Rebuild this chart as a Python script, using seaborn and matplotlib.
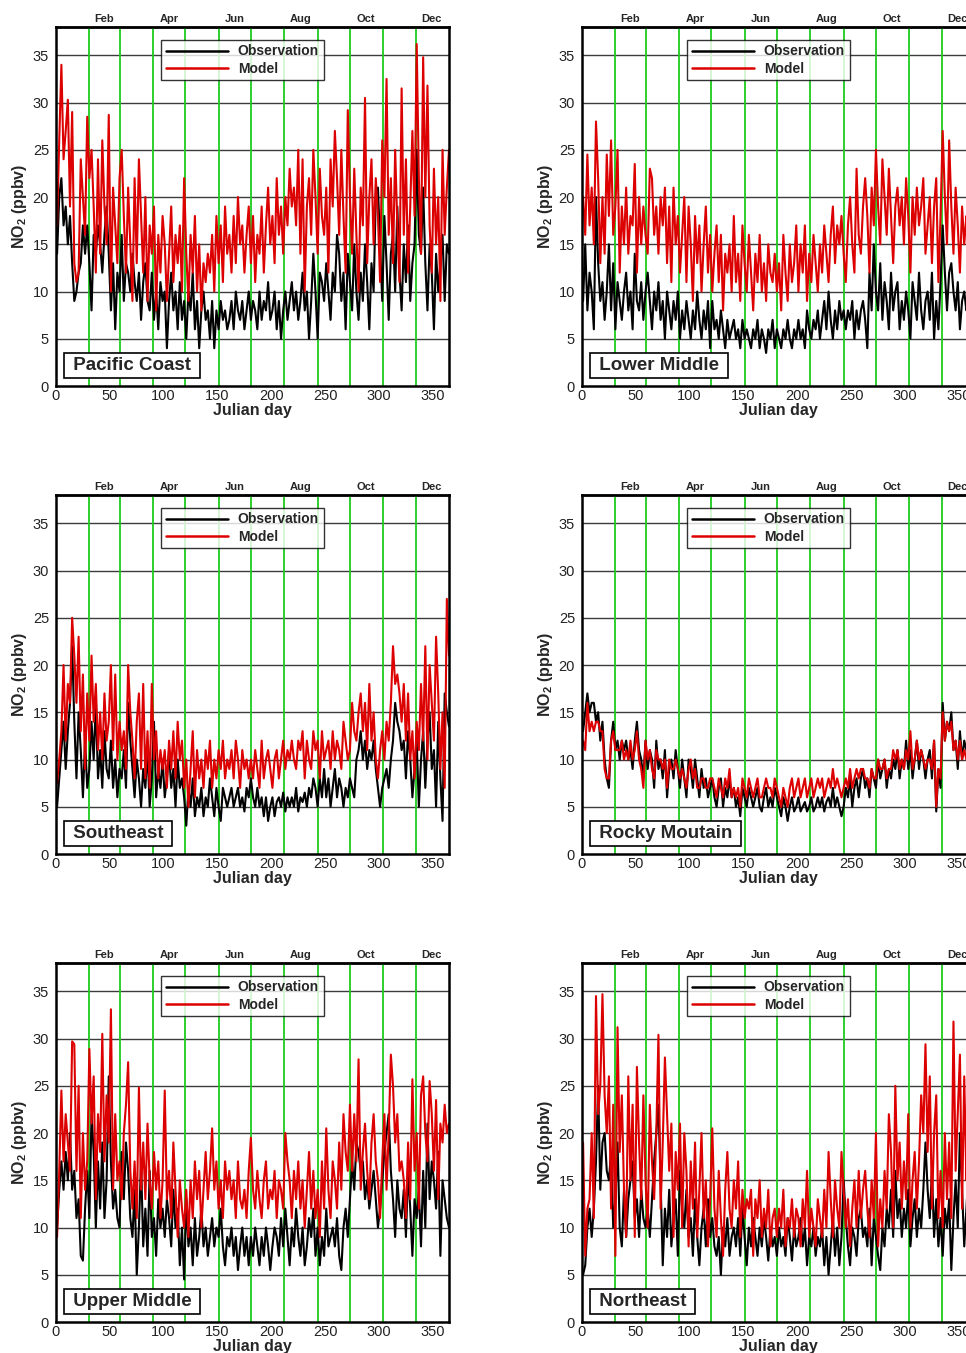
import numpy as np
import pandas as pd
import matplotlib
matplotlib.use("Agg")
import matplotlib.pyplot as plt
from matplotlib.lines import Line2D
import seaborn as sns

# ---- daily NO2 (ppbv), sampled every second Julian day (1, 3, ..., 365) ----
regions = ["Pacific Coast", "Lower Middle", "Southeast",
           "Rocky Moutain", "Upper Middle", "Northeast"]

pacific_obs = [
    14, 20, 22, 17, 19, 15, 18, 13, 9, 10,
    12, 13, 17, 14, 17, 13, 8, 16, 14, 17,
    15, 12, 16, 19, 14, 8, 13, 6, 12, 10,
    16, 9, 13, 12, 10, 14, 11, 9, 12, 7,
    11, 13, 9, 8, 12, 7, 10, 6, 11, 9,
    10, 4, 9, 12, 8, 10, 6, 11, 7, 9,
    5, 10, 8, 12, 6, 9, 4, 8, 10, 7,
    8, 5, 9, 4, 8, 6, 9, 7, 8, 6,
    7, 9, 6, 10, 8, 7, 9, 6, 8, 10,
    7, 9, 8, 6, 10, 7, 9, 8, 11, 7,
    8, 10, 6, 9, 5, 8, 10, 7, 9, 11,
    8, 10, 7, 9, 12, 8, 10, 5, 9, 14,
    10, 5, 12, 11, 9, 13, 10, 7, 12, 10,
    16, 14, 9, 12, 6, 14, 11, 8, 15, 10,
    7, 12, 9, 15, 11, 6, 13, 10, 20, 21,
    15, 9, 18, 13, 7, 14, 16, 10, 19, 12,
    8, 15, 11, 17, 9, 13, 15, 25, 16, 14,
    21, 13, 8, 15, 12, 6, 14, 10, 13, 16,
    9, 15, 14]
pacific_mod = [
    17, 26, 34, 24, 27, 30.3, 19, 29, 13, 11,
    12, 24, 20, 16, 28.5, 22, 25, 19, 12, 24,
    14, 26, 19, 15, 28.7, 10, 21, 17, 13, 22,
    25, 18, 12, 21, 15, 9, 22, 13, 24, 18,
    12, 20, 9, 17, 14, 19, 8, 16, 12, 18,
    15, 9, 14, 19, 11, 16, 13, 17, 10, 22,
    14, 9, 16, 12, 18, 10, 15, 8, 13, 11,
    14, 12, 16, 10, 18, 13, 17, 11, 19, 14,
    16, 12, 18, 13, 20, 15, 17, 12, 16, 19,
    13, 18, 11, 16, 14, 19, 12, 17, 21, 15,
    18, 13, 22, 16, 19, 14, 20, 17, 23, 19,
    21, 17, 25, 14, 24, 10, 19, 22, 16, 25,
    20, 14, 23, 18, 16, 21, 12, 24, 19, 27,
    22, 16, 25, 18, 12, 29.2, 20, 14, 23, 16,
    10, 21, 17, 30.5, 13, 20, 24, 15, 22, 18,
    11, 26, 20, 32.5, 16, 22, 13, 25, 17, 11,
    31.5, 16, 24, 12, 19, 27, 18, 36.2, 22, 14,
    34.8, 20, 31.8, 17, 12, 23, 15, 20, 9, 25,
    16, 21, 25]

lower_obs = [
    9, 15, 8, 12, 10, 6, 20, 13, 9, 11,
    7, 10, 15, 8, 13, 6, 11, 9, 7, 10,
    12, 8, 10, 6, 14, 9, 8, 11, 7, 10,
    12, 9, 6, 10, 8, 11, 7, 9, 5, 10,
    8, 6, 9, 7, 10, 5, 8, 6, 9, 7,
    5, 8, 6, 10, 7, 5, 8, 6, 9, 4,
    9, 6, 7, 5, 8, 6, 4, 7, 5, 6,
    7, 5, 6, 4, 7, 5, 6, 5, 4, 6,
    5, 7, 4, 6, 5, 3.5, 6, 5, 7, 4,
    6, 5, 4, 6, 5, 7, 5, 4, 6, 5,
    7, 5, 6, 4, 8, 6, 5, 7, 6, 8,
    5, 7, 9, 6, 10, 7, 5, 8, 6, 9,
    7, 8, 6, 8, 7, 9, 5, 8, 6, 8,
    9, 7, 4, 12, 8, 15, 10, 8, 13, 7,
    11, 9, 6, 12, 8, 10, 11, 6, 9, 7,
    10, 8, 5, 11, 9, 7, 12, 8, 6, 9,
    10, 7, 12, 5, 9, 6, 11, 17, 12, 8,
    12, 13, 10, 8, 11, 6, 9, 10, 8, 9,
    7, 10, 9]
lower_mod = [
    20, 16, 24.5, 17, 21, 15, 28, 22, 13, 20,
    14, 24.5, 18, 26, 16, 19, 25, 12, 19, 15,
    21, 14, 18, 17, 23.5, 12, 20, 15, 19, 16,
    14, 23, 22, 16, 19, 14, 20, 17, 21, 13,
    19, 11, 21, 15, 18, 12, 16, 20, 11, 19,
    15, 9, 18, 13, 17, 10, 15, 19, 12, 16,
    10, 14, 17, 11, 16, 8, 14, 12, 15, 10,
    18, 11, 14, 9, 17, 13, 10, 16, 12, 8,
    14, 11, 16, 10, 13, 9, 15, 12, 11, 14,
    10, 13, 8, 16, 12, 9, 15, 11, 13, 17,
    10, 15, 12, 17, 9, 14, 11, 16, 13, 10,
    15, 12, 17, 14, 11, 16, 19, 13, 17, 15,
    18, 14, 11, 17, 20, 15, 12, 23, 16, 14,
    19, 22, 18, 12, 21, 17, 25, 19, 15, 24,
    20, 16, 23, 18, 13, 19, 21, 17, 20, 15,
    22, 18, 12, 20, 16, 21, 17, 19, 22, 14,
    17, 20, 13, 19, 22, 11, 18, 27, 20, 15,
    26, 19, 14, 21, 17, 12, 19, 15, 18, 16,
    13, 17, 15]

southeast_obs = [
    5, 8, 11, 14, 9, 13, 16, 22, 14, 8,
    15, 11, 6, 12, 7, 9, 14, 10, 16, 8,
    11, 7, 13, 9, 8, 12, 7, 10, 6, 9,
    8, 11, 7, 16, 12, 9, 6, 10, 8, 5,
    9, 7, 11, 5, 8, 14, 6, 9, 7, 10,
    6, 8, 11, 7, 9, 5, 10, 7, 8, 6,
    3, 7, 5, 8, 4, 6, 5, 7, 4, 6,
    5, 8, 6, 4, 7, 5, 3.5, 7, 6, 5,
    6, 7, 5, 6, 7, 5, 6, 4.5, 7, 6,
    8, 6, 5, 7, 5, 6, 4, 6, 3.5, 5,
    6, 4, 5.5, 6, 5, 6.5, 4.5, 6, 5, 6,
    5, 7, 4.5, 6, 5.5, 6.5, 5, 7, 6, 8,
    7, 5, 8, 6, 9, 6, 8, 5, 7, 9,
    6, 8, 7, 5, 7, 6, 8, 7, 6, 10,
    11, 13, 10, 12, 9, 11, 10, 12, 9, 7,
    5, 7, 8, 9, 7, 10, 12, 16, 14, 13,
    11, 12, 8, 13, 10, 6, 9, 12, 5, 10,
    13, 7, 12, 15, 9, 11, 5, 14, 8, 3.5,
    17, 15, 13.5]
southeast_mod = [
    7.5, 10, 13, 20, 12, 18, 16, 25, 21, 16,
    23, 13, 19, 9, 17, 12, 21, 14, 18, 11,
    15, 10, 17, 12, 14, 20, 11, 19, 10, 14,
    11, 13, 9, 20, 15, 12, 8, 14, 17, 9,
    18, 8, 13, 7, 18, 10, 13, 8, 11, 9,
    11, 7, 12, 9, 13, 8, 14, 10, 12, 7,
    10, 5, 9, 13, 6, 11, 8, 10, 7, 11,
    9, 12, 7, 10, 8, 11, 9, 12, 8, 10,
    9, 11, 8, 12, 10, 7, 11, 9, 10, 8,
    10, 8, 11, 9, 7, 12, 8, 10, 11, 9,
    7, 10, 11, 8, 10, 12, 9, 11, 10, 12,
    10, 9, 12, 11, 13, 8, 12, 10, 9, 13,
    11, 12, 8, 13, 10, 11, 12, 9, 13, 10,
    12, 11, 9, 14, 12, 10, 11, 16, 13, 12,
    15, 17, 13, 16, 11, 18, 12, 15, 10, 8,
    11, 13, 10, 14, 12, 16, 22, 18, 19, 17,
    14, 18, 12, 17, 10, 13, 8, 14, 11, 18,
    12, 22, 10, 20, 16, 12, 23, 17, 9, 15,
    7, 27, 21]

rocky_obs = [
    13, 15, 17, 15, 16, 16, 14, 15, 12, 14,
    10, 8, 7, 12, 14, 11, 12, 10, 12, 11,
    12, 10, 11, 9, 12, 14, 11, 10, 8, 12,
    9, 11, 10, 7, 12, 9, 10, 8, 11, 6,
    9, 10, 8, 11, 9, 7, 10, 8, 6, 10,
    9, 7, 10, 8, 6, 9, 7, 8, 6, 7,
    8, 6, 5, 7, 8, 5, 7, 6, 8, 6,
    7, 5, 6, 4, 7, 6, 5, 7, 6, 5,
    6, 7, 5, 4.5, 6, 7, 5, 6, 5, 7,
    6, 5, 4, 6, 5, 3.5, 5, 6, 4.5, 5,
    6, 4.5, 5, 5.5, 4.5, 5, 6, 4.5, 5, 6,
    5, 6, 4.5, 5.5, 6, 5, 7, 5, 6, 5,
    4, 5, 7, 6, 8, 5, 7, 8, 6, 8,
    9, 7, 8, 6, 9, 8, 7, 10, 8, 9,
    10, 7, 9, 8, 10, 9, 11, 8, 10, 9,
    12, 9, 11, 8, 10, 12, 9, 11, 10, 8,
    10, 11, 8, 12, 4.5, 9, 7, 16, 12, 14,
    13, 15, 11, 12, 9, 13, 10, 12, 11, 10,
    9, 11, 10]
rocky_mod = [
    12, 11, 16, 13, 14, 13, 14, 14, 13, 13,
    9, 8, 8, 12, 13, 11, 11, 11, 12, 10,
    11, 10, 12, 10, 11, 13, 10, 9, 7, 12,
    10, 11, 9, 8, 11, 10, 10, 9, 10, 7,
    10, 9, 9, 10, 9, 8, 9, 8, 7, 9,
    10, 8, 9, 7, 7, 8, 8, 7, 7, 8,
    8, 7, 6, 8, 7, 6, 8, 7, 9, 6,
    7, 6, 7, 5, 8, 7, 6, 8, 7, 6,
    7, 8, 6, 6, 7, 8, 7, 7, 6, 8,
    7, 6, 5, 7, 6, 5, 7, 8, 6, 7,
    8, 6, 7, 8, 6, 7, 8, 6, 7, 8,
    7, 8, 6, 7, 8, 7, 9, 7, 8, 7,
    6, 7, 8, 7, 9, 7, 8, 9, 8, 9,
    9, 8, 8, 7, 9, 8, 8, 10, 9, 9,
    10, 8, 9, 9, 11, 10, 11, 9, 10, 9,
    11, 10, 13, 9, 10, 12, 10, 11, 10, 9,
    10, 10, 9, 12, 5, 9, 8, 15, 12, 14,
    13, 14, 11, 12, 10, 12, 10, 11, 10, 10,
    9, 10, 10]

upper_obs = [
    10, 14, 17, 14, 18, 15, 20, 14, 16, 11,
    13, 7, 6.5, 12, 16, 11, 22, 18, 10, 17,
    12, 19, 11, 15, 26, 17, 12, 14, 11, 10,
    18, 13, 19, 16, 11, 9, 14, 5, 10, 17,
    8, 12, 7, 16, 9, 11, 7, 13, 10, 12,
    9, 13, 11, 8, 14, 10, 12, 6, 10, 4.5,
    13, 8, 10, 6, 11, 7, 9, 12, 8, 10,
    7, 9, 11, 8, 10, 9, 12, 8, 6, 9,
    8, 10, 7, 9, 5.5, 8, 10, 7, 9, 6,
    9, 7, 10, 8, 6, 9, 7, 10, 8, 5.5,
    8, 10, 9, 7, 11, 8, 12, 9, 6, 10,
    8, 12, 9, 7, 10, 6, 8, 11, 9, 12,
    7, 10, 6, 9, 7, 12, 8, 9, 10, 8,
    11, 7, 5.5, 10, 12, 9, 13, 17, 14, 19,
    18, 16, 17, 13, 15, 12, 14, 16, 13, 10,
    12, 15, 18, 20, 22, 16, 13, 9, 15, 12,
    11, 14, 9, 16, 12, 7, 13, 11, 14, 8,
    16, 10, 21, 13, 17, 15, 12, 18, 7, 15,
    13, 11, 10]
upper_mod = [
    9, 16, 24.5, 17, 22, 19, 16, 29.7, 29.4, 16,
    25, 11, 20, 14, 17, 28.9, 21, 26, 13, 22,
    18, 30.5, 17, 24, 19, 33.1, 14, 22, 15, 17,
    13, 20, 23, 27.5, 16, 12, 17, 11, 24.8, 14,
    19, 13, 21, 15, 12, 18, 14, 17, 11, 15,
    24.5, 13, 16, 11, 19, 14, 9, 15, 12, 10,
    14, 9, 15, 11, 17, 13, 16, 10, 14, 18,
    13, 16, 20.5, 14, 17, 12, 15, 11, 17, 14,
    16, 13, 15, 11, 17, 13, 12, 14, 11, 16,
    19.5, 14, 12, 16, 13, 11, 15, 17, 12, 14,
    13, 16, 11, 15, 14, 12, 20, 17, 15, 11,
    16, 13, 17, 12, 15, 10, 14, 18, 12, 16,
    11, 14, 9, 17, 12, 20.5, 14, 11, 17, 15,
    12, 19, 14, 22, 18, 16, 23, 16, 22, 17,
    27.8, 14, 18, 21, 16, 13, 19, 22, 17, 15,
    11, 17, 22, 14, 20, 28.3, 25, 19, 22, 16,
    17, 15, 11, 19, 13, 25.7, 16, 20, 12, 24,
    26, 20, 17, 25.5, 22, 16, 23.5, 13, 21, 19,
    23, 20, 21]

northeast_obs = [
    5, 6, 10, 12, 9, 12, 17, 25, 14, 19,
    20, 16, 15, 18, 10, 13, 19, 10, 8, 14,
    9, 13, 15, 17, 11, 13, 9, 14, 11, 10,
    12, 9, 13, 17, 20, 23, 15, 6, 12, 9,
    14, 8, 11, 13, 7, 16, 12, 10, 14, 9,
    11, 7, 13, 9, 6, 10, 12, 8, 13, 9,
    11, 8, 7, 9, 5, 10, 8, 11, 7, 9,
    10, 8, 11, 7, 12, 9, 6, 10, 8, 11,
    9, 7, 10, 8, 11, 9, 6.5, 10, 8, 9,
    7, 10, 8, 9, 7, 11, 9, 6.5, 10, 8,
    9, 11, 8, 10, 6, 9, 8, 10, 7, 9,
    8, 10, 6, 9, 5, 8, 11, 7, 10, 6,
    9, 15, 11, 8, 6, 10, 9, 7, 11, 12,
    9, 10, 8, 12, 6, 11, 9, 7, 5.5, 10,
    8, 12, 10, 14, 9, 16, 11, 13, 9, 12,
    10, 14, 8, 11, 13, 9, 12, 10, 14, 19,
    14, 11, 16, 9, 13, 8, 11, 7, 12, 10,
    13, 5.5, 11, 15, 10, 20, 14, 8, 12, 16,
    11, 9, 12]
northeast_mod = [
    19, 7, 12, 13, 20, 11, 34.5, 22, 25, 34.7,
    24, 20, 26, 12, 23, 7, 31.2, 18, 24, 14,
    9, 26, 15, 23, 9, 27, 19, 13, 24, 15,
    10, 23, 17, 13, 20, 30.4, 12, 19, 28, 22,
    16, 21, 9, 18, 14, 21, 10, 20, 16, 8,
    17, 12, 19, 9, 14, 20, 11, 15, 8, 13,
    20.5, 12, 9, 16, 11, 7, 14, 18, 12, 10,
    15, 12, 17, 9, 14, 11, 13, 12, 14, 7,
    13, 11, 15, 9, 12, 10, 14, 8, 11, 12,
    9, 12, 10, 14, 8, 11, 10, 13, 9, 12,
    11, 8, 13, 10, 16, 9, 12, 10, 8, 13,
    11, 9, 14, 10, 18, 13, 9, 15, 12, 10,
    18, 14, 10, 13, 8, 12, 15, 10, 16, 11,
    14, 16, 12, 9, 15, 11, 20, 8, 13, 10,
    16, 12, 22, 18, 10, 25, 15, 19, 12, 17,
    13, 22, 10, 15, 18, 12, 17, 24, 20, 29.4,
    18, 26, 12, 20, 24, 11, 16, 10, 20, 13,
    19, 11, 31.8, 16, 22, 28.3, 12, 26, 15, 20,
    14, 17, 12]

observations = [pacific_obs, lower_obs, southeast_obs,
                rocky_obs, upper_obs, northeast_obs]
models = [pacific_mod, lower_mod, southeast_mod,
          rocky_mod, upper_mod, northeast_mod]

month_starts = [31, 59, 90, 120, 151, 181, 212, 243, 273, 304, 334]
month_label_days = [45, 105, 166, 227, 288, 349]
month_labels = ["Feb", "Apr", "Jun", "Aug", "Oct", "Dec"]
y_ticks = [0, 5, 10, 15, 20, 25, 30, 35]
x_ticks = [0, 50, 100, 150, 200, 250, 300, 350]

# ---- long-form table ----
frames = []
for name, obs, mod in zip(regions, observations, models):
    for label, vals in (("Observation", obs), ("Model", mod)):
        frames.append(pd.DataFrame({
            "day": 1 + 2 * np.arange(len(vals)),
            "no2": vals,
            "series": label,
            "region": name,
        }))
df = pd.concat(frames, ignore_index=True)

sns.set_style("white")
plt.rcParams["font.family"] = ["Liberation Sans", "DejaVu Sans"]
plt.rcParams["mathtext.fontset"] = "custom"
plt.rcParams["mathtext.rm"] = "Liberation Sans:bold"
plt.rcParams["mathtext.bf"] = "Liberation Sans:bold"
plt.rcParams["mathtext.default"] = "regular"

palette = {"Observation": "black", "Model": "#dd0000"}

W, H = 966, 1353
fig = plt.figure(figsize=(W / 100, H / 100), dpi=100)
fig.patch.set_facecolor("white")

col_left = [56, 582]
row_top = [27, 495, 963]
ax_w, ax_h = 393, 359

for k, name in enumerate(regions):
    r, c = divmod(k, 2)
    left = col_left[c] / W
    bottom = 1 - (row_top[r] + ax_h) / H
    ax = fig.add_axes([left, bottom, ax_w / W, ax_h / H])

    for yv in y_ticks[1:]:
        ax.axhline(yv, color="#3c3c3c", lw=1.0, zorder=1)
    for d in month_starts:
        ax.axvline(d, color="#1ecc1e", lw=1.3, zorder=1.5)

    sub = df[df.region == name]
    for label in ("Observation", "Model"):
        sns.lineplot(data=sub[sub.series == label], x="day", y="no2",
                     color=palette[label], lw=1.5, ax=ax,
                     estimator=None, legend=False, zorder=3)

    ax.set_xlim(0, 365)
    ax.set_ylim(0, 38)
    ax.set_xticks(x_ticks)
    ax.set_xticks(np.arange(0, 366, 10), minor=True)
    ax.set_yticks(y_ticks)
    ax.tick_params(axis="x", which="major", direction="in", length=6,
                   width=1.4, labelsize=10.5, pad=2, top=False)
    ax.tick_params(axis="x", which="minor", direction="in", length=3.5,
                   width=1.0, top=False)
    ax.tick_params(axis="y", length=0, labelsize=10.5, pad=5)
    for lab in ax.get_xticklabels() + ax.get_yticklabels():
        lab.set_color("#222222")

    ax.set_xlabel("Julian day", fontsize=11.5, fontweight="bold", labelpad=0)
    ax.set_ylabel("NO$_2$ (ppbv)", fontsize=11.5, fontweight="bold",
                  labelpad=2.5)
    for sp in ax.spines.values():
        sp.set_linewidth(1.8)
        sp.set_color("black")
        sp.set_zorder(5)

    top = ax.secondary_xaxis("top")
    top.set_xticks(month_label_days)
    top.set_xticklabels(month_labels, fontsize=8, fontweight="bold")
    top.tick_params(length=0, pad=2)
    top.spines["top"].set_linewidth(1.8)

    handles = [Line2D([], [], color="black", lw=1.8),
               Line2D([], [], color="#dd0000", lw=1.8)]
    leg = ax.legend(handles, ["Observation", "Model"], loc="upper left",
                    bbox_to_anchor=(0.267, 0.965), frameon=True,
                    fancybox=False, handlelength=4.46, handletextpad=0.72,
                    borderpad=0.35, labelspacing=0.23, borderaxespad=0,
                    prop={"weight": "bold", "size": 10})
    leg.get_frame().set_edgecolor("black")
    leg.get_frame().set_linewidth(1.0)
    leg.set_zorder(6)

    ax.text(0.030, 0.033, " " + name + " ", transform=ax.transAxes,
            ha="left", va="bottom", fontsize=13.5, fontweight="bold",
            zorder=6,
            bbox=dict(boxstyle="square,pad=0.2", facecolor="white",
                      edgecolor="black", linewidth=1.2))

fig.savefig("out.png", dpi=100, facecolor="white")
